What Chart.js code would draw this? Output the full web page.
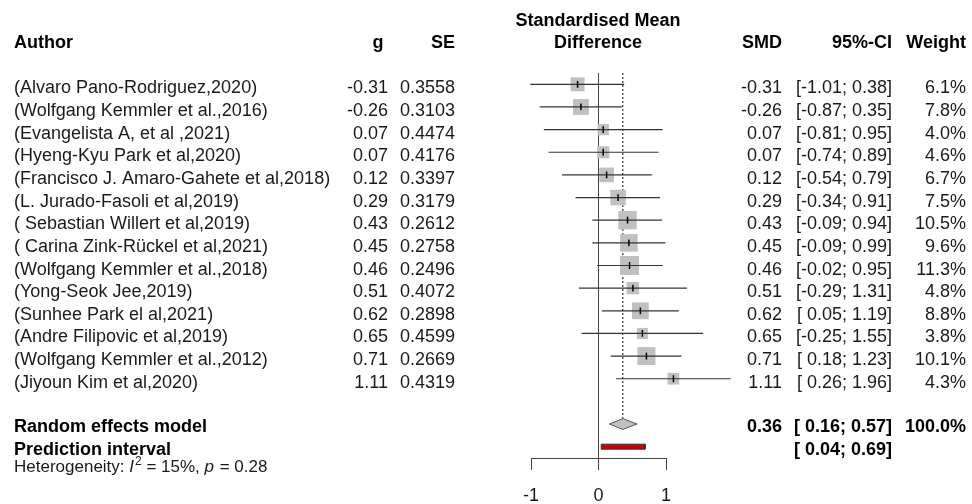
<!doctype html>
<html lang="en">
<head>
    <meta charset="utf-8">
    <title>Forest plot</title>
    <script src="https://cdn.jsdelivr.net/npm/chart.js"></script>
    <style>
        body {
            background-color: #ffffff;
            margin: 0;
            padding: 0;
        }
        canvas {
            display: block;
        }
    </style>
</head>
<body>
    <canvas id="forestChart" width="972" height="504"></canvas>
    <script>
        // study data
        const authors = [
            '(Alvaro Pano-Rodriguez,2020)',
            '(Wolfgang Kemmler et al.,2016)',
            '(Evangelista A, et al ,2021)',
            '(Hyeng-Kyu Park et al,2020)',
            '(Francisco J. Amaro-Gahete et al,2018)',
            '(L. Jurado-Fasoli et al,2019)',
            '( Sebastian Willert et al,2019)',
            '( Carina Zink-R\u00fcckel et al,2021)',
            '(Wolfgang Kemmler et al.,2018)',
            '(Yong-Seok Jee,2019)',
            '(Sunhee Park el al,2021)',
            '(Andre Filipovic et al,2019)',
            '(Wolfgang Kemmler et al.,2012)',
            '(Jiyoun Kim et al,2020)'
        ];
        const g = [-0.31, -0.26, 0.07, 0.07, 0.12, 0.29, 0.43, 0.45, 0.46, 0.51, 0.62, 0.65, 0.71, 1.11];
        const se = [0.3558, 0.3103, 0.4474, 0.4176, 0.3397, 0.3179, 0.2612, 0.2758, 0.2496, 0.4072, 0.2898, 0.4599, 0.2669, 0.4319];
        const lower = [-1.01, -0.87, -0.81, -0.74, -0.54, -0.34, -0.09, -0.09, -0.02, -0.29, 0.05, -0.25, 0.18, 0.26];
        const upper = [0.38, 0.35, 0.95, 0.89, 0.79, 0.91, 0.94, 0.99, 0.95, 1.31, 1.19, 1.55, 1.23, 1.96];
        const weights = [6.1, 7.8, 4.0, 4.6, 6.7, 7.5, 10.5, 9.6, 11.3, 4.8, 8.8, 3.8, 10.1, 4.3];

        // random effects summary and prediction interval
        const summary = { est: 0.36, lo: 0.16, hi: 0.57 };
        const predInterval = { lo: 0.04, hi: 0.69 };
        const heterogeneity = { i2: '15%', p: '0.28' };

        const xTicks = [-1, 0, 1];
        const summaryRow = authors.length + 1;
        const predRow = authors.length + 2;

        const FONT = '"Liberation Sans", Arial, sans-serif';
        const SIZE = 18;
        const TEXT = '#1a1a1a';

        function fmtCI(lo, hi) {
            const f = v => (v < 0 ? '' : ' ') + v.toFixed(2);
            return '[' + f(lo) + '; ' + hi.toFixed(2) + ']';
        }

        const datasets = [];

        // line of no effect
        datasets.push({
            data: [{ x: 0, y: -0.5 }, { x: 0, y: predRow + 0.5 }],
            showLine: true, borderColor: '#444', borderWidth: 1, pointRadius: 0, order: 5
        });
        // dotted summary line
        datasets.push({
            data: [{ x: summary.est, y: -0.5 }, { x: summary.est, y: summaryRow - 0.24 }],
            showLine: true, borderColor: '#333', borderWidth: 1.2, borderDash: [2, 2], pointRadius: 0, order: 5
        });
        // squares
        datasets.push({
            data: g.map((v, i) => ({ x: v, y: i })),
            pointStyle: 'rect',
            pointRadius: weights.map(w => 4.0 * Math.sqrt(w)),
            backgroundColor: '#c0c0c0', borderWidth: 0, order: 4
        });
        // confidence intervals and point estimate ticks
        authors.forEach((a, i) => {
            datasets.push({
                data: [{ x: lower[i], y: i }, { x: upper[i], y: i }],
                showLine: true, borderColor: '#333', borderWidth: 1.2, pointRadius: 0, order: 3
            });
            datasets.push({
                data: [{ x: g[i], y: i - 0.15 }, { x: g[i], y: i + 0.15 }],
                showLine: true, borderColor: '#000', borderWidth: 1.5, pointRadius: 0, order: 2
            });
        });
        // summary diamond
        datasets.push({
            data: [
                { x: summary.lo, y: summaryRow },
                { x: summary.est, y: summaryRow - 0.24 },
                { x: summary.hi, y: summaryRow },
                { x: summary.est, y: summaryRow + 0.24 },
                { x: summary.lo, y: summaryRow }
            ],
            showLine: true, fill: 'shape', backgroundColor: '#c0c0c0',
            borderColor: '#555', borderWidth: 1, pointRadius: 0, order: 1
        });
        // prediction interval bar
        datasets.push({
            data: [
                { x: predInterval.lo, y: predRow - 0.11 },
                { x: predInterval.hi, y: predRow - 0.11 },
                { x: predInterval.hi, y: predRow + 0.11 },
                { x: predInterval.lo, y: predRow + 0.11 },
                { x: predInterval.lo, y: predRow - 0.11 }
            ],
            showLine: true, fill: 'shape', backgroundColor: '#d00000',
            borderColor: '#333', borderWidth: 1, pointRadius: 0, order: 1
        });
        datasets.forEach(d => { d.clip = false; });

        function txt(ctx, s, x, y, align, bold) {
            ctx.font = (bold ? 'bold ' : '') + SIZE + 'px ' + FONT;
            ctx.textAlign = align;
            ctx.fillText(s, x, y);
        }

        const textColumns = {
            id: 'textColumns',
            afterDraw(chart) {
                const ctx = chart.ctx;
                const y = chart.scales.y;
                ctx.save();
                ctx.fillStyle = '#000';
                ctx.textBaseline = 'alphabetic';

                // headers
                txt(ctx, 'Author', 14, 48, 'left', true);
                txt(ctx, 'g', 378, 48, 'center', true);
                txt(ctx, 'SE', 455, 48, 'right', true);
                txt(ctx, 'Standardised Mean', 598, 26, 'center', true);
                txt(ctx, 'Difference', 598, 48, 'center', true);
                txt(ctx, 'SMD', 782, 48, 'right', true);
                txt(ctx, '95%-CI', 892, 48, 'right', true);
                txt(ctx, 'Weight', 966, 48, 'right', true);

                // study rows
                ctx.fillStyle = TEXT;
                authors.forEach((a, i) => {
                    const py = y.getPixelForValue(i) + 9;
                    txt(ctx, a, 14, py, 'left', false);
                    txt(ctx, g[i].toFixed(2), 388, py, 'right', false);
                    txt(ctx, se[i].toFixed(4), 455, py, 'right', false);
                    txt(ctx, g[i].toFixed(2), 782, py, 'right', false);
                    txt(ctx, fmtCI(lower[i], upper[i]), 892, py, 'right', false);
                    txt(ctx, weights[i].toFixed(1) + '%', 966, py, 'right', false);
                });

                // summary rows
                ctx.fillStyle = '#000';
                let py = y.getPixelForValue(summaryRow) + 8;
                txt(ctx, 'Random effects model', 14, py, 'left', true);
                txt(ctx, summary.est.toFixed(2), 782, py, 'right', true);
                txt(ctx, fmtCI(summary.lo, summary.hi), 892, py, 'right', true);
                txt(ctx, '100.0%', 966, py, 'right', true);
                py = y.getPixelForValue(predRow) + 8;
                txt(ctx, 'Prediction interval', 14, py, 'left', true);
                txt(ctx, fmtCI(predInterval.lo, predInterval.hi), 892, py, 'right', true);

                // heterogeneity
                ctx.fillStyle = TEXT;
                ctx.textAlign = 'left';
                let hx = 14;
                const hy = 472;
                const parts = [
                    ['Heterogeneity: ', '', 0, 17],
                    ['I', 'italic ', 0, 17],
                    ['2', '', -7, 12],
                    [' = ' + heterogeneity.i2 + ', ', '', 0, 17],
                    ['p', 'italic ', 0, 17],
                    [' = ' + heterogeneity.p, '', 0, 17]
                ];
                parts.forEach(([s, style, dy, size]) => {
                    ctx.font = style + size + 'px ' + FONT;
                    ctx.fillText(s, hx, hy + dy);
                    hx += ctx.measureText(s).width + (style ? 1 : 0);
                });
                ctx.restore();
            }
        };

        const forestChart = new Chart(document.getElementById('forestChart').getContext('2d'), {
            type: 'scatter',
            data: { datasets: datasets },
            options: {
                responsive: false,
                animation: false,
                layout: { padding: { left: 531, right: 306, top: 73, bottom: 0 } },
                scales: {
                    x: {
                        type: 'linear',
                        min: -1,
                        max: 1,
                        afterBuildTicks: scale => { scale.ticks = xTicks.map(v => ({ value: v })); },
                        afterFit: scale => { scale.height = 46; },
                        border: { color: '#444', width: 1 },
                        grid: { drawOnChartArea: false, drawTicks: true, tickLength: 12, color: '#444' },
                        ticks: { color: '#1a1a1a', font: { size: SIZE, family: FONT }, padding: 15 }
                    },
                    y: {
                        display: false,
                        reverse: true,
                        min: -0.5,
                        max: predRow + 0.5
                    }
                },
                plugins: {
                    legend: { display: false },
                    tooltip: { enabled: false }
                }
            },
            plugins: [textColumns]
        });
    </script>
</body>
</html>
